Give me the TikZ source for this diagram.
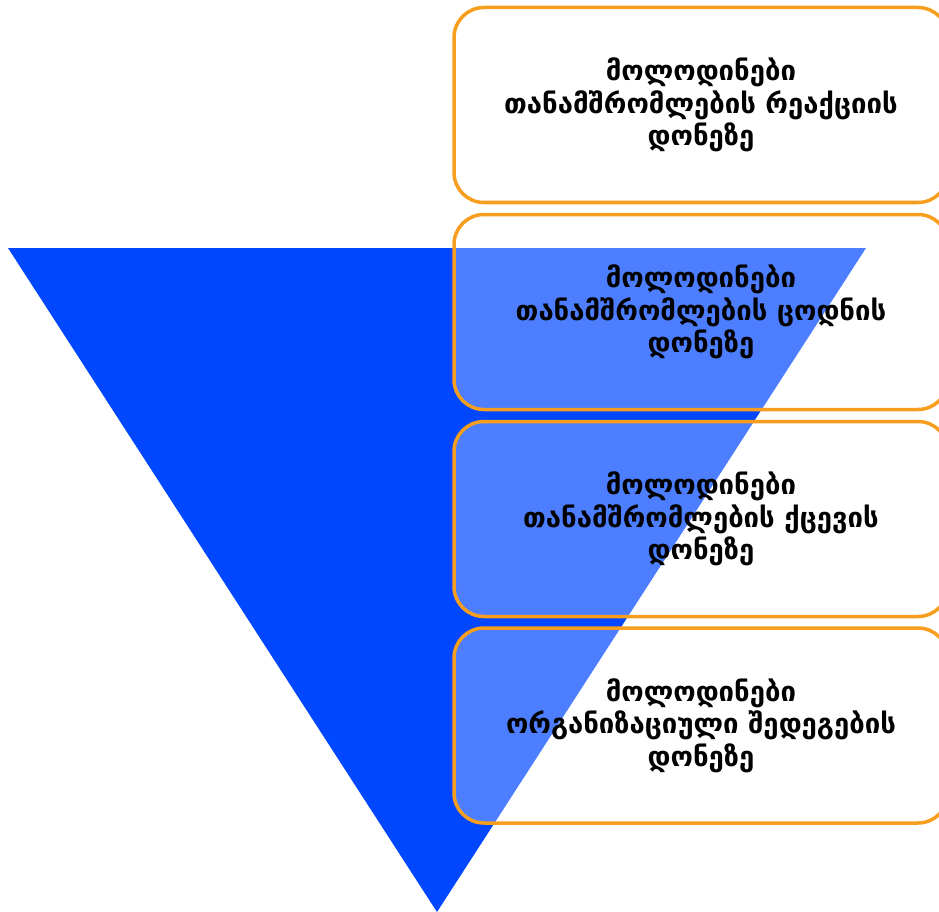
\documentclass[tikz,border=0pt]{standalone}
\usepackage{fontspec}
\newfontfamily\geofont{DejaVu Sans}
\definecolor{funnelblue}{HTML}{0047FF}
\definecolor{boxorange}{HTML}{F89E1E}
\tikzset{
  level/.style={draw=boxorange, line width=3.5pt, rounded corners=30pt,
    fill=white, fill opacity=0.3, text opacity=1,
    minimum width=494pt, minimum height=195pt, align=center,
    font=\geofont\bfseries\fontsize{27.5}{32.5}\selectfont}
}
\begin{document}
\begin{tikzpicture}[x=1pt,y=-1pt]
  \useasboundingbox (0,0) rectangle (939,912);
  % funnel
  \fill[funnelblue] (8,248) -- (866,248) -- (437,912) -- cycle;
  \draw
    (701,105) node[level] (reaction){მოლოდინები\\თანამშრომლების რეაქციის\\დონეზე}
    (701,312) node[level] (knowledge){მოლოდინები\\თანამშრომლების ცოდნის\\დონეზე}
    (701,519) node[level] (behaviour){მოლოდინები\\თანამშრომლების ქცევის\\დონეზე}
    (701,725.5) node[level] (results){მოლოდინები\\ორგანიზაციული შედეგების\\დონეზე};
\end{tikzpicture}
\end{document}
